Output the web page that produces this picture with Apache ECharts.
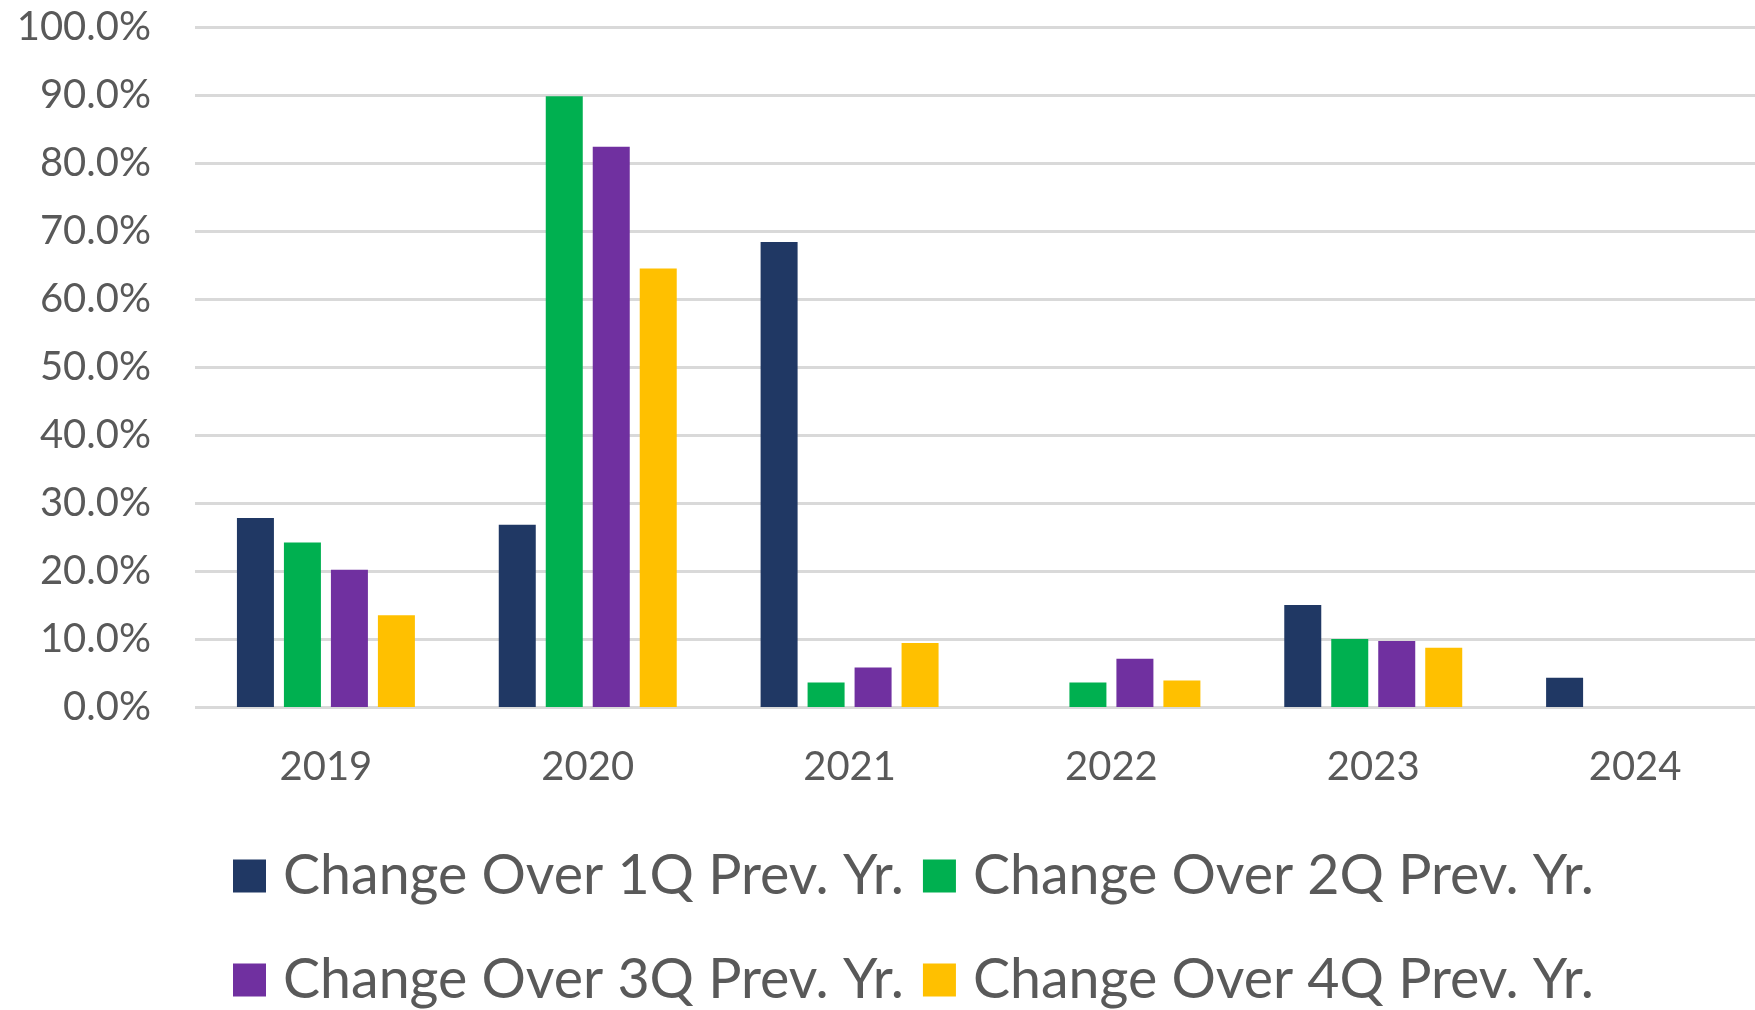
<!DOCTYPE html>
<html>
<head>
<meta charset="utf-8">
<script src="https://cdn.jsdelivr.net/npm/echarts@6/dist/echarts.min.js"></script>
<style>
html,body{margin:0;padding:0;background:#fff;}
#c{width:1755px;height:1010px;}
</style>
</head>
<body>
<div id="c"></div>
<script>
const categories = ['2019','2020','2021','2022','2023','2024'];
const seriesNames = ['Change Over 1Q Prev. Yr.','Change Over 2Q Prev. Yr.','Change Over 3Q Prev. Yr.','Change Over 4Q Prev. Yr.'];
const q1 = [27.8, 26.8, 68.4, null, 15.0, 4.3];
const q2 = [24.2, 89.8, 3.6, 3.6, 10.0, null];
const q3 = [20.2, 82.4, 5.8, 7.1, 9.7, null];
const q4 = [13.5, 64.5, 9.4, 3.9, 8.7, null];
const colors = ['#203864','#00B050','#7030A0','#FFC000'];
const allData = [q1,q2,q3,q4];

const chart = echarts.init(document.getElementById('c'));
const font = 'Lato';
const legendText = {fontFamily:font,fontSize:55.5,color:'#595959',padding:[0,0,0,12],lineHeight:66};
chart.setOption({
  animation:false,
  backgroundColor:'#fff',
  grid:{left:195,right:-11,top:27,bottom:303,outerBoundsMode:'none',containLabel:false},
  legend:[
    {data:[seriesNames[0],seriesNames[1]],left:233,top:843,padding:0,itemWidth:33,itemHeight:33,itemGap:19,icon:'rect',
     textStyle:legendText},
    {data:[seriesNames[2],seriesNames[3]],left:233,top:947,padding:0,itemWidth:33,itemHeight:33,itemGap:19,icon:'rect',
     textStyle:legendText}
  ],
  xAxis:{type:'category',data:categories,
    axisLine:{show:false},axisTick:{show:false},
    axisLabel:{fontFamily:font,fontSize:40,color:'#595959',margin:40}},
  yAxis:{type:'value',min:0,max:100,interval:10,
    axisLine:{show:false},axisTick:{show:false},
    splitLine:{lineStyle:{color:'#D9D9D9',width:3}},
    axisLabel:{fontFamily:font,fontSize:40,color:'#595959',margin:44,formatter:v=>v.toFixed(1)+'%'}},
  series: allData.map((d,i)=>({
    name:seriesNames[i],type:'bar',data:d,barWidth:37,barGap:'27%',
    itemStyle:{color:colors[i]}
  }))
});
</script>
</body>
</html>
